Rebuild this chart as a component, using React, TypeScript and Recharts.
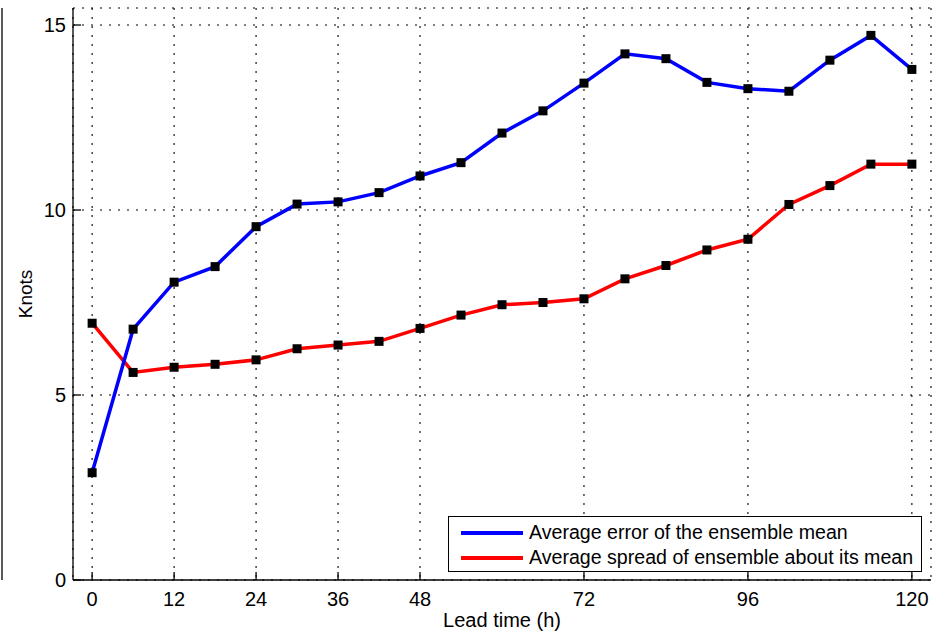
import React from 'react'
import { LineChart, Line, XAxis, YAxis, CartesianGrid, Legend } from 'recharts'

// lead times (hours)
const leadTimes = [0, 6, 12, 18, 24, 30, 36, 42, 48, 54, 60, 66, 72, 78, 84, 90, 96, 102, 108, 114, 120]

// knots
const errorOfMean = [2.9, 6.78, 8.05, 8.47, 9.55, 10.16, 10.22, 10.47, 10.92, 11.28, 12.08, 12.68, 13.43, 14.22, 14.09, 13.45, 13.28, 13.21, 14.05, 14.72, 13.8]
const spreadAboutMean = [6.94, 5.61, 5.75, 5.83, 5.95, 6.25, 6.35, 6.45, 6.8, 7.16, 7.44, 7.5, 7.6, 8.14, 8.5, 8.92, 9.21, 10.15, 10.66, 11.24, 11.24]

const xTicks = [0, 12, 24, 36, 48, 72, 96, 120]
const yTicks = [0, 5, 10, 15]
// ticks of the neighbouring (cropped) panel on the far left
const edgeTicks = [1, 2, 3, 4, 5, 6, 7, 8, 9, 10]

const seriesNames = ['Average error of the ensemble mean', 'Average spread of ensemble about its mean']
const seriesColors = ['#0000ff', '#ff0000']

const data = leadTimes.map((h, i) => ({
  h,
  error: errorOfMean[i],
  spread: spreadAboutMean[i],
}))

const Square = (props: any) => {
  const { cx, cy, index } = props
  return <rect key={index} x={cx - 4.5} y={cy - 4.5} width={9} height={9} fill="#000" />
}

const NoTick = () => <g />

const KnotsLabel = (props: any) => {
  const vb = props.viewBox
  const x = vb.x + 23
  const y = vb.y + vb.height / 2
  return (
    <text x={x} y={y} transform={`rotate(-90 ${x} ${y})`} textAnchor="middle" dominantBaseline="central" fontSize={19} fill="#000">
      Knots
    </text>
  )
}

const LegendBox = () => (
  <div
    style={{
      boxSizing: 'border-box',
      width: '100%',
      height: '100%',
      border: '1.3px solid #000',
      background: '#fff',
      paddingTop: 3,
      paddingLeft: 12,
      fontSize: 19.6,
      color: '#000',
      whiteSpace: 'nowrap',
      textAlign: 'left',
    }}
  >
    {seriesNames.map((name, i) => (
      <div key={name} style={{ display: 'flex', alignItems: 'center', height: 25, lineHeight: '25px' }}>
        <span style={{ display: 'inline-block', flexShrink: 0, width: 62, height: 4, background: seriesColors[i], marginRight: 6 }} />
        <span style={{ flexShrink: 0 }}>{name}</span>
      </div>
    ))}
  </div>
)

const axisLine = { stroke: '#000', strokeWidth: 1.3 }
const tickStyle = { fill: '#000', fontSize: 20 }

export default function App() {
  return (
    <div
      style={{
        position: 'absolute',
        left: 0,
        top: 0,
        width: 940,
        height: 634,
        background: '#fff',
        fontFamily: '"Liberation Sans", Arial, sans-serif',
      }}
    >
      <LineChart width={940} height={634} data={data} margin={{ top: 8, right: 9, left: 0, bottom: 0 }}>
        <CartesianGrid stroke="#000" strokeWidth={1.1} strokeDasharray="2 7" />
        <XAxis
          dataKey="h"
          type="number"
          domain={[-2.8, 122.8]}
          ticks={xTicks}
          interval={0}
          height={54}
          axisLine={axisLine}
          tickLine={axisLine}
          tickSize={-8}
          tickMargin={20}
          tick={tickStyle}
          label={{ value: 'Lead time (h)', position: 'insideBottom', offset: 7, fill: '#000', fontSize: 20 }}
        />
        <XAxis
          xAxisId="top"
          orientation="top"
          type="number"
          domain={[-2.8, 122.8]}
          ticks={xTicks}
          interval={0}
          height={0}
          axisLine={axisLine}
          tickLine={axisLine}
          tickSize={-8}
          tick={<NoTick />}
        />
        <YAxis
          type="number"
          domain={[0, 15.46]}
          ticks={yTicks}
          interval={0}
          width={71}
          axisLine={axisLine}
          tickLine={axisLine}
          tickSize={-8}
          tickMargin={15}
          tick={tickStyle}
          label={<KnotsLabel />}
        />
        <YAxis
          yAxisId="edge"
          type="number"
          domain={[0, 10.59]}
          ticks={edgeTicks}
          interval={0}
          width={2}
          axisLine={axisLine}
          tickLine={axisLine}
          tickSize={6}
          tick={<NoTick />}
        />
        <YAxis
          yAxisId="right"
          orientation="right"
          type="number"
          domain={[0, 15.46]}
          ticks={yTicks}
          interval={0}
          width={0}
          axisLine={axisLine}
          tickLine={axisLine}
          tickSize={-8}
          tick={<NoTick />}
        />
        <Legend
          layout="horizontal"
          verticalAlign="middle"
          align="center"
          wrapperStyle={{ left: 448, top: 516, width: 474, height: 56 }}
          content={<LegendBox />}
        />
        <Line
          dataKey="spread"
          name={seriesNames[1]}
          type="linear"
          stroke={seriesColors[1]}
          strokeWidth={3.5}
          dot={<Square />}
          activeDot={false}
          isAnimationActive={false}
        />
        <Line
          dataKey="error"
          name={seriesNames[0]}
          type="linear"
          stroke={seriesColors[0]}
          strokeWidth={3.5}
          dot={<Square />}
          activeDot={false}
          isAnimationActive={false}
        />
      </LineChart>
    </div>
  )
}
